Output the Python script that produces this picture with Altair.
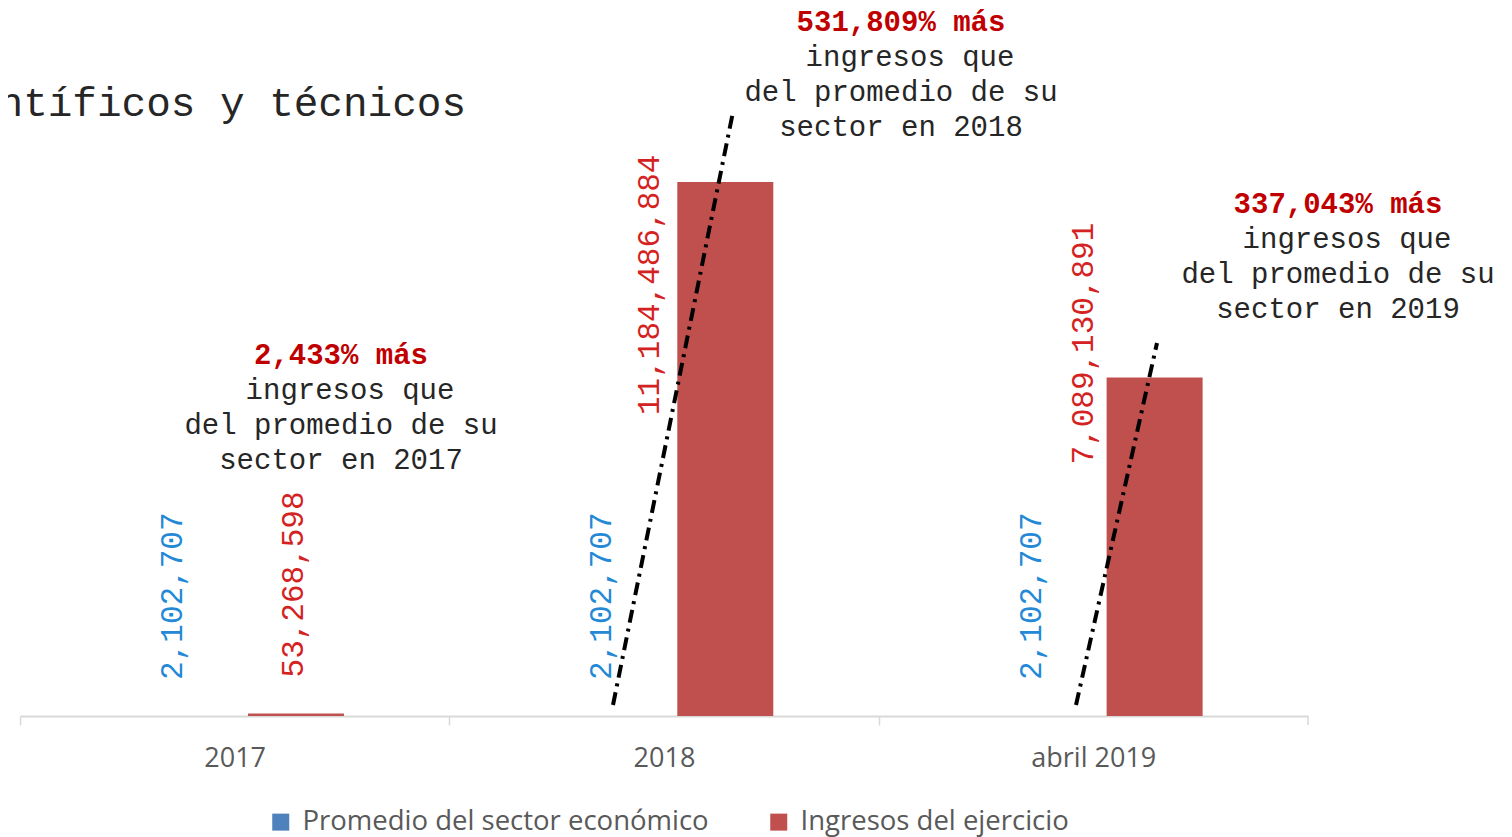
import altair as alt
import pandas as pd

categories = ["2017", "2018", "abril 2019"]
series = ["Promedio del sector económico", "Ingresos del ejercicio"]
promedio = [2102707, 2102707, 2102707]
ingresos = [53268598, 11184486884, 7089130891]
pct_labels = ["2,433% más", "531,809% más", "337,043% más"]
body_years = ["2017", "2018", "2019"]
title_text = "Servicios profesionales, científicos y técnicos"

BLUE = "#4F81BD"
RED = "#C0504D"
W, H = 1288, 708
YMAX = 11184486884 * 708 / 534
MONO = "Liberation Mono"
SANS = "Open Sans"

rows = []
for i, c in enumerate(categories):
    rows.append({"category": c, "series": series[0], "value": promedio[i]})
    rows.append({"category": c, "series": series[1], "value": ingresos[i]})
df = pd.DataFrame(rows)

XSCALE = alt.Scale(domain=categories, paddingInner=0.5528, paddingOuter=0.2764, align=0.556)
OSCALE = alt.Scale(domain=series, paddingInner=0, paddingOuter=0)
YSCALE = alt.Scale(domain=[0, YMAX], nice=False, zero=True)

xs = alt.X("category:N", sort=categories, scale=XSCALE,
           axis=alt.Axis(title=None, bandPosition=0, tickOffset=-132, labelOffset=118.67,
                         labelFont=SANS, labelFontSize=27, labelColor="#595959",
                         labelPadding=20, domainColor="#d9d9d9", domainWidth=2,
                         tickColor="#d9d9d9", tickSize=9, tickWidth=1.5, labelAngle=0))
xo = alt.XOffset("series:N", sort=series, scale=OSCALE)
ys = alt.Y("value:Q", scale=YSCALE, axis=None)

bars = alt.Chart(df).mark_bar(opacity=1).encode(
    x=xs, xOffset=xo, y=ys,
    color=alt.Color("series:N", sort=series,
                    scale=alt.Scale(domain=series, range=[BLUE, RED]),
                    legend=alt.Legend(title=None, orient="none", direction="horizontal",
                                      legendX=247, legendY=800, symbolType="square",
                                      symbolSize=289, symbolStrokeWidth=0, symbolOpacity=1,
                                      labelFont=SANS, labelFontSize=27.5, labelColor="#595959",
                                      labelOffset=8, columnPadding=56, labelLimit=800)),
)

def num_label(data, color, dx, dy):
    return alt.Chart(data).mark_text(
        angle=270, align="left", baseline="middle", font=MONO, fontSize=31,
        color=color, dx=dx, dy=dy
    ).encode(x=alt.X("category:N", sort=categories, scale=XSCALE),
             xOffset=alt.XOffset("series:N", sort=series, scale=OSCALE),
             y=alt.Y("value:Q", scale=YSCALE),
             text=alt.Text("value:Q", format=","))

blue_df = df[df.series == series[0]]
red_df = df[df.series == series[1]]
layers = [bars, num_label(blue_df, "#2389D6", 36, -27)]
red_offsets = [(36, -2), (-233, -75), (-87, -71)]
for i, c in enumerate(categories):
    dx, dy = red_offsets[i]
    layers.append(num_label(red_df[red_df.category == c], "#D42222", dx, dy))

# annotation blocks (plot coordinates)
blocks = [(321, 347), (881, 14), (1318, 196)]
one = pd.DataFrame({"k": [0]})
for i, (cx, cy) in enumerate(blocks):
    lines = [pct_labels[i], "ingresos que", "del promedio de su", "sector en " + body_years[i]]
    shifts = [0, 9, 0, 0]
    for j, t in enumerate(lines):
        bold = j == 0
        layers.append(alt.Chart(one).mark_text(
            align="center", baseline="middle", font=MONO, fontSize=29,
            fontWeight="bold" if bold else "normal",
            color="#C00000" if bold else "#262626", text=t
        ).encode(x=alt.value(cx + shifts[j]), y=alt.value(cy + 35 * j)))

# title (cut at left as in reference)
layers.append(alt.Chart(one).mark_text(
    align="right", baseline="middle", font=MONO, fontSize=41, color="#262626", text=title_text
).encode(x=alt.value(446), y=alt.value(96)))

# dash-dot trend lines
for (x1, y1, x2, y2) in [(593, 697, 713, 104), (1056, 697, 1137, 335)]:
    layers.append(alt.Chart(one).mark_rule(
        color="black", strokeWidth=4, strokeDash=[13, 6, 3, 6]
    ).encode(x=alt.value(x1), y=alt.value(y1), x2=alt.value(x2), y2=alt.value(y2)))

# closing axis tick
layers.append(alt.Chart(one).mark_rule(color="#d9d9d9", strokeWidth=1.5).encode(
    x=alt.value(W), y=alt.value(H), y2=alt.value(H + 9)))

chart = alt.layer(*layers).properties(
    width=W, height=H,
    background="white",
    autosize=alt.AutoSizeParams(type="none"),
    padding={"left": 12, "top": 0, "right": 190, "bottom": 121},
).configure_view(stroke=None, strokeWidth=0)

chart.save("out.html", embed_options={"renderer": "svg", "actions": False})
